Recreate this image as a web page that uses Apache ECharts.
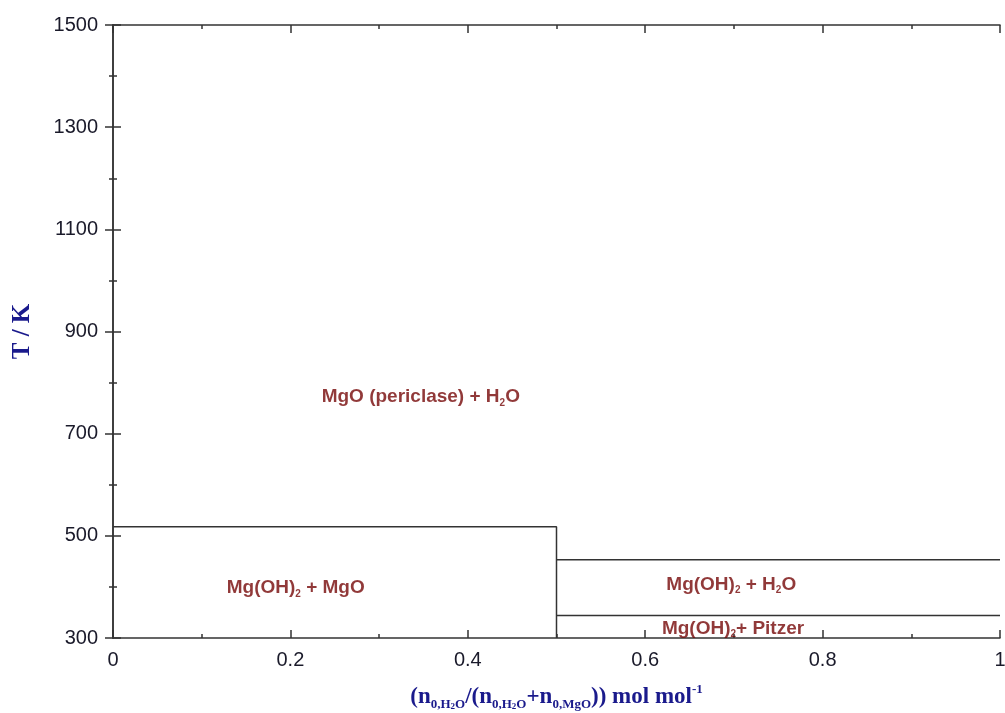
<!DOCTYPE html>
<html>
<head>
<meta charset="utf-8">
<script src="https://cdn.jsdelivr.net/npm/echarts@6/dist/echarts.min.js"></script>
<style>
  html, body { margin: 0; padding: 0; background: #fff; }
  #chart { width: 1005px; height: 713px; }
</style>
</head>
<body>
<div id="chart"></div>
<script>
// phase boundaries (x = mole fraction, y = T / K)
var boundaryHydroxide = [[0, 518], [0.5, 518], [0.5, 300]];
var boundaryUpper = [[0.5, 453], [1, 453]];
var boundaryLower = [[0.5, 344], [1, 344]];

// region labels: position + rich text
var regionLabels = [
  { pos: [0.347, 772], text: 'MgO (periclase) + H{sub|2}O' },
  { pos: [0.206, 398], text: 'Mg(OH){sub|2} + MgO' },
  { pos: [0.697, 405], text: 'Mg(OH){sub|2} + H{sub|2}O' },
  { pos: [0.699, 319], text: 'Mg(OH){sub|2}+ Pitzer' }
];

var xTicks = [0, 0.2, 0.4, 0.6, 0.8, 1];
var yTicks = [300, 500, 700, 900, 1100, 1300, 1500];

var axisColor = '#333';
var labelColor = '#1a1a2a';
var navy = '#1a1a8c';
var red = '#750808';

window.onload = function () {
  var chart = echarts.init(document.getElementById('chart'));

  function lineSeries(data) {
    return {
      type: 'line',
      data: data,
      symbol: 'none',
      silent: true,
      lineStyle: { color: '#333', width: 1.5 },
      z: 3
    };
  }

  var labelSeries = regionLabels.map(function (r) {
    return {
      type: 'scatter',
      data: [r.pos],
      symbolSize: 0,
      silent: true,
      label: {
        show: true,
        position: 'inside',
        formatter: r.text,
        fontFamily: 'Liberation Sans, Arial, sans-serif',
        fontWeight: 'bold',
        fontSize: 19,
        color: red,
        lineHeight: 22,
        rich: {
          sub: { fontSize: 10, fontWeight: 'bold', color: red, fontFamily: 'Liberation Sans, Arial', verticalAlign: 'bottom', lineHeight: 9 }
        }
      }
    };
  });

  function tickStyle() {
    return {
      axisLine: { lineStyle: { color: axisColor, width: 1.5 } },
      axisTick: { inside: true, length: 8, lineStyle: { color: axisColor, width: 1.5 } },
      minorTick: { show: true, splitNumber: 2, length: 4, lineStyle: { color: axisColor, width: 1.5 } },
      splitLine: { show: false }
    };
  }

  var subRich = {
    s: { fontFamily: 'Liberation Serif, serif', fontWeight: 'bold', fontSize: 13, color: navy, verticalAlign: 'bottom', lineHeight: 15 },
    ss: { fontFamily: 'Liberation Serif, serif', fontWeight: 'bold', fontSize: 9, color: navy, verticalAlign: 'bottom', lineHeight: 13 },
    sup: { fontFamily: 'Liberation Serif, serif', fontWeight: 'bold', fontSize: 13, color: navy, verticalAlign: 'top', lineHeight: 17 }
  };

  chart.setOption({
    animation: false,
    backgroundColor: '#fff',
    grid: { left: 113, right: 5, top: 25, bottom: 75, containLabel: false, outerBoundsMode: 'none' },
    xAxis: [Object.assign({
      type: 'value', min: 0, max: 1, interval: 0.2,
      axisLabel: {
        margin: 12, fontSize: 20, color: labelColor,
        fontFamily: 'Liberation Sans, Arial, sans-serif',
        formatter: function (v) { return String(Math.round(v * 10) / 10); }
      },
      name: '(n{s|0,H}{ss|2}{s|O}/(n{s|0,H}{ss|2}{s|O}+n{s|0,MgO})) mol mol{sup|-1}',
      nameLocation: 'middle',
      nameGap: 45,
      nameTextStyle: {
        fontFamily: 'Liberation Serif, Times New Roman, serif',
        fontWeight: 'bold', fontSize: 23, color: navy, lineHeight: 28,
        rich: subRich
      }
    }, tickStyle()), Object.assign({
      type: 'value', position: 'top', min: 0, max: 1, interval: 0.2,
      axisLabel: { show: false }
    }, tickStyle())],
    yAxis: [Object.assign({
      type: 'value', min: 300, max: 1500, interval: 200,
      axisLabel: {
        margin: 15, fontSize: 20, color: labelColor,
        fontFamily: 'Liberation Sans, Arial, sans-serif',
        formatter: function (v) { return String(v); }
      },
      name: 'T / K',
      nameLocation: 'middle',
      nameGap: 78,
      nameTextStyle: {
        fontFamily: 'Liberation Serif, Times New Roman, serif',
        fontWeight: 'bold', fontSize: 25, color: navy
      }
    }, tickStyle()), Object.assign({
      type: 'value', position: 'right', min: 300, max: 1500, interval: 200,
      axisLabel: { show: false }
    }, tickStyle())],
    series: [
      lineSeries(boundaryHydroxide),
      lineSeries(boundaryUpper),
      lineSeries(boundaryLower)
    ].concat(labelSeries)
  });
};
</script>
</body>
</html>
